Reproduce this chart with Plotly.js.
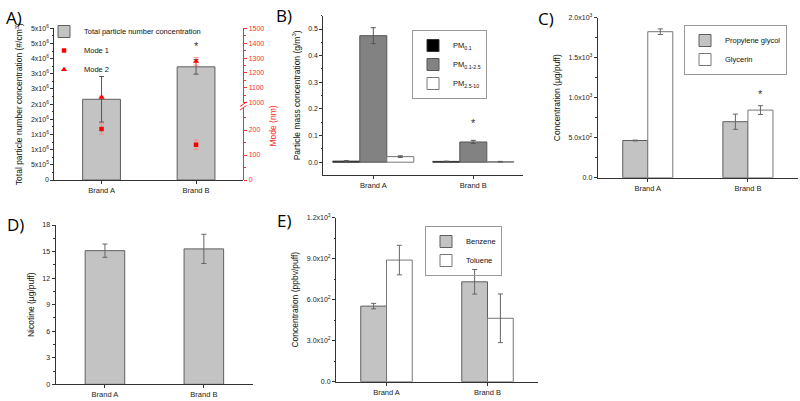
<!DOCTYPE html>
<html>
<head>
<meta charset="utf-8">
<script src="https://cdn.plot.ly/plotly-3.0.1.min.js"></script>
<style>html,body{margin:0;padding:0;background:#fff;}#chart{width:800px;height:401px;}</style>
</head>
<body>
<div id="chart"></div>
<script>
// ---------- data ----------
const brands = ['Brand A', 'Brand B'];

// Panel A
const totalNumber = [2.66e6, 3.73e6];
const totalNumberErr = [0.75e6, 0.24e6];
const mode1 = [204, 141];
const mode1Err = [21, 19];
const mode2 = [1036, 1278];
const mode2Err = [8, 25];

// Panel B
const pm01 = [0.004, 0.003];
const pm01Err = [0.002, 0.001];
const pm0125 = [0.475, 0.076];
const pm0125Err = [0.030, 0.006];
const pm2510 = [0.021, 0.002];
const pm2510Err = [0.003, 0.001];

// Panel C
const propyleneGlycol = [465, 700];
const propyleneGlycolErr = [5, 95];
const glycerin = [1825, 845];
const glycerinErr = [35, 55];

// Panel D
const nicotine = [15.1, 15.3];
const nicotineErr = [0.75, 1.65];

// Panel E
const benzene = [553, 731];
const benzeneErr = [20, 90];
const toluene = [890, 464];
const tolueneErr = [108, 178];

// tick labels
const aLeftTickVals = [0, 5e5, 1e6, 1.5e6, 2e6, 2.5e6, 3e6, 3.5e6, 4e6, 4.5e6, 5e6];
const aLeftTickText = ['0', '5x10<sup>5</sup>', '1x10<sup>6</sup>', '1x10<sup>6</sup>', '2x10<sup>6</sup>', '2x10<sup>6</sup>',
  '3x10<sup>6</sup>', '3x10<sup>6</sup>', '4x10<sup>6</sup>', '5x10<sup>6</sup>', '5x10<sup>6</sup>'];
const cTickVals = [0, 500, 1000, 1500, 2000];
const cTickText = ['0.0', '5.0x10<sup>2</sup>', '1.0x10<sup>3</sup>', '1.5x10<sup>3</sup>', '2.0x10<sup>3</sup>'];
const eTickVals = [0, 300, 600, 900, 1200];
const eTickText = ['0.0', '3.0x10<sup>2</sup>', '6.0x10<sup>2</sup>', '9.0x10<sup>2</sup>', '1.2x10<sup>3</sup>'];

// ---------- helpers ----------
const W = 800, H = 401;
const px = v => v / W;
const py = v => (H - v) / H;
const FONT = '"Liberation Sans", Arial, sans-serif';
const AX = '#333';

function err(arr, color) {
  return {type: 'data', array: arr, visible: true, color: color || '#555', thickness: 1, width: 2.5};
}
function xax(domain, anchor) {
  return {
    domain: domain, anchor: anchor, type: 'category', categoryarray: brands, categoryorder: 'array',
    range: [-0.5, 1.5], showline: true, linecolor: AX, linewidth: 1, ticks: 'outside', ticklen: 3,
    tickcolor: AX, tickfont: {size: 7.5, family: FONT, color: '#222'}, showgrid: false, zeroline: false,
    fixedrange: true
  };
}
function yax(domain, anchor, range, extra) {
  return Object.assign({
    domain: domain, anchor: anchor, range: range, showline: true, linecolor: AX, linewidth: 1,
    ticks: 'outside', ticklen: 3, tickcolor: AX, tickfont: {size: 7, family: FONT, color: '#222'},
    showgrid: false, zeroline: false, fixedrange: true
  }, extra);
}

const GRAY = '#c3c3c3';
const GRAY_LINE = '#5f5f5f';

const traces = [
  // ----- Panel A -----
  {type: 'bar', name: 'Total particle number concentration', x: brands, y: totalNumber,
   error_y: err(totalNumberErr), width: 0.4, xaxis: 'x', yaxis: 'y', legend: 'legend',
   marker: {color: GRAY, line: {color: GRAY_LINE, width: 1}}},
  {type: 'scatter', mode: 'markers', name: 'Mode 1', x: brands, y: mode1,
   error_y: err(mode1Err, '#ff8a8a'), xaxis: 'x', yaxis: 'y2', legend: 'legend',
   marker: {symbol: 'square', size: 4.5, color: '#ff0000'}},
  {type: 'scatter', mode: 'markers', name: 'Mode 2', x: brands, y: mode2,
   error_y: err(mode2Err, '#ff8a8a'), xaxis: 'x', yaxis: 'y3', legend: 'legend',
   marker: {symbol: 'triangle-up', size: 5.5, color: '#ff0000'}},

  // ----- Panel B -----
  {type: 'bar', name: 'PM<sub>0.1</sub>', x: brands, y: pm01, error_y: err(pm01Err),
   width: 0.27, offset: -0.405, xaxis: 'x2', yaxis: 'y4', legend: 'legend2',
   marker: {color: '#000000', line: {color: '#333', width: 1}}},
  {type: 'bar', name: 'PM<sub>0.1-2.5</sub>', x: brands, y: pm0125, error_y: err(pm0125Err),
   width: 0.27, offset: -0.135, xaxis: 'x2', yaxis: 'y4', legend: 'legend2',
   marker: {color: '#828282', line: {color: '#555', width: 1}}},
  {type: 'bar', name: 'PM<sub>2.5-10</sub>', x: brands, y: pm2510, error_y: err(pm2510Err),
   width: 0.27, offset: 0.135, xaxis: 'x2', yaxis: 'y4', legend: 'legend2',
   marker: {color: '#ffffff', line: {color: '#777', width: 1}}},

  // ----- Panel C -----
  {type: 'bar', name: 'Propylene glycol', x: brands, y: propyleneGlycol, error_y: err(propyleneGlycolErr, '#666'),
   width: 0.25, offset: -0.25, xaxis: 'x3', yaxis: 'y5', legend: 'legend3',
   marker: {color: GRAY, line: {color: GRAY_LINE, width: 1}}},
  {type: 'bar', name: 'Glycerin', x: brands, y: glycerin, error_y: err(glycerinErr, '#666'),
   width: 0.25, offset: 0, xaxis: 'x3', yaxis: 'y5', legend: 'legend3',
   marker: {color: '#ffffff', line: {color: '#777', width: 1}}},

  // ----- Panel D -----
  {type: 'bar', name: 'Nicotine', x: brands, y: nicotine, error_y: err(nicotineErr, '#666'),
   width: 0.4, xaxis: 'x4', yaxis: 'y6', showlegend: false,
   marker: {color: GRAY, line: {color: GRAY_LINE, width: 1}}},

  // ----- Panel E -----
  {type: 'bar', name: 'Benzene', x: brands, y: benzene, error_y: err(benzeneErr, '#666'),
   width: 0.255, offset: -0.255, xaxis: 'x5', yaxis: 'y7', legend: 'legend4',
   marker: {color: GRAY, line: {color: GRAY_LINE, width: 1}}},
  {type: 'bar', name: 'Toluene', x: brands, y: toluene, error_y: err(tolueneErr, '#666'),
   width: 0.255, offset: 0, xaxis: 'x5', yaxis: 'y7', legend: 'legend4',
   marker: {color: '#ffffff', line: {color: '#777', width: 1}}}
];

const titleFont = {size: 8.5, family: FONT, color: '#111'};
const legendBase = {font: {size: 7.5, family: FONT, color: '#111'}, xanchor: 'left', yanchor: 'top',
  bgcolor: 'rgba(255,255,255,0)', itemwidth: 30, tracegroupgap: 0};

const RED = '#ff2a2a';
const layout = {
  width: W, height: H, margin: {l: 0, r: 0, t: 0, b: 0},
  paper_bgcolor: '#ffffff', plot_bgcolor: 'rgba(0,0,0,0)',
  barmode: 'overlay', showlegend: true, font: {family: FONT},

  // Panel A
  xaxis: xax([px(54.3), px(243.3)], 'y'),
  yaxis: yax([py(180), py(28.3)], 'x', [0, 5e6], {
    tickmode: 'array', tickvals: aLeftTickVals, ticktext: aLeftTickText,
    minor: {tickmode: 'linear', tick0: 0, dtick: 2.5e5, ticks: 'outside', ticklen: 1.5, tickcolor: AX},
    title: {text: 'Total particle number concentration (#/cm<sup>3</sup>)', font: titleFont, standoff: 6}
  }),
  yaxis2: yax([py(180), py(108)], 'x', [0, 288], {
    side: 'right', linecolor: RED, tickcolor: RED, tickfont: {size: 7, family: FONT, color: RED},
    tickmode: 'array', tickvals: [0, 100, 200],
    minor: {tickmode: 'linear', tick0: 0, dtick: 50, ticks: 'outside', ticklen: 1.5, tickcolor: RED}
  }),
  yaxis3: yax([py(102.7), py(28.3)], 'x', [1000, 1500], {
    side: 'right', linecolor: RED, tickcolor: RED, tickfont: {size: 7, family: FONT, color: RED},
    tickmode: 'linear', tick0: 1000, dtick: 100,
    minor: {tickmode: 'linear', tick0: 1000, dtick: 50, ticks: 'outside', ticklen: 1.5, tickcolor: RED}
  }),

  // Panel B
  xaxis2: xax([px(323.3), px(523.3)], 'y4'),
  yaxis4: yax([py(175), py(15.7)], 'x2', [-0.048, 0.55], {
    tickmode: 'linear', tick0: 0, dtick: 0.1, tickformat: '.1f',
    minor: {tickmode: 'linear', tick0: 0, dtick: 0.05, ticks: 'outside', ticklen: 1.5, tickcolor: AX},
    title: {text: 'Particle mass concentration (g/m<sup>3</sup>)', font: titleFont, standoff: 6}
  }),

  // Panel C
  xaxis3: xax([px(597.7), px(798)], 'y5'),
  yaxis5: yax([py(177.7), py(17.7)], 'x3', [0, 2000], {
    tickmode: 'array', tickvals: cTickVals, ticktext: cTickText,
    minor: {tickmode: 'linear', tick0: 0, dtick: 250, ticks: 'outside', ticklen: 1.5, tickcolor: AX},
    title: {text: 'Concentration (µg/puff)', font: titleFont, standoff: 6}
  }),

  // Panel D
  xaxis4: xax([px(55.5), px(253.3)], 'y6'),
  yaxis6: yax([py(384.3), py(225)], 'x4', [0, 18], {
    tickmode: 'linear', tick0: 0, dtick: 3,
    minor: {tickmode: 'linear', tick0: 0, dtick: 1.5, ticks: 'outside', ticklen: 1.5, tickcolor: AX},
    title: {text: 'Nicotine (µg/puff)', font: titleFont, standoff: 6}
  }),

  // Panel E
  xaxis5: xax([px(336), px(538)], 'y7'),
  yaxis7: yax([py(381.7), py(217.7)], 'x5', [0, 1200], {
    tickmode: 'array', tickvals: eTickVals, ticktext: eTickText,
    minor: {tickmode: 'linear', tick0: 0, dtick: 150, ticks: 'outside', ticklen: 1.5, tickcolor: AX},
    title: {text: 'Concentration (ppbv/puff)', font: titleFont, standoff: 6}
  }),

  legend: Object.assign({}, legendBase, {x: px(44), y: py(17)}),
  legend2: Object.assign({}, legendBase, {x: px(412), y: py(30), bordercolor: '#999', borderwidth: 1}),
  legend3: Object.assign({}, legendBase, {x: px(684), y: py(25), bordercolor: '#999', borderwidth: 1}),
  legend4: Object.assign({}, legendBase, {x: px(425), y: py(226), bordercolor: '#999', borderwidth: 1}),

  annotations: [
    // panel labels
    {text: 'A)', xref: 'paper', yref: 'paper', x: px(4), y: py(4), xanchor: 'left', yanchor: 'top', showarrow: false, font: {size: 17, family: 'Open Sans, sans-serif', color: '#000'}},
    {text: 'B)', xref: 'paper', yref: 'paper', x: px(274), y: py(2), xanchor: 'left', yanchor: 'top', showarrow: false, font: {size: 17, family: 'Open Sans, sans-serif', color: '#000'}},
    {text: 'C)', xref: 'paper', yref: 'paper', x: px(536), y: py(5), xanchor: 'left', yanchor: 'top', showarrow: false, font: {size: 17, family: 'Open Sans, sans-serif', color: '#000'}},
    {text: 'D)', xref: 'paper', yref: 'paper', x: px(5), y: py(211), xanchor: 'left', yanchor: 'top', showarrow: false, font: {size: 17, family: 'Open Sans, sans-serif', color: '#000'}},
    {text: 'E)', xref: 'paper', yref: 'paper', x: px(275), y: py(207), xanchor: 'left', yanchor: 'top', showarrow: false, font: {size: 17, family: 'Open Sans, sans-serif', color: '#000'}},
    // right axis title of panel A
    {text: 'Mode (nm)', xref: 'paper', yref: 'paper', x: px(273), y: py(104), textangle: -90, showarrow: false, font: {size: 8.5, family: FONT, color: RED}},
    // significance stars
    {text: '*', xref: 'x', yref: 'y', x: 1, y: 4.43e6, showarrow: false, font: {size: 11, family: FONT, color: '#333'}},
    {text: '*', xref: 'x2', yref: 'y4', x: 1, y: 0.148, showarrow: false, font: {size: 11, family: FONT, color: '#333'}},
    {text: '*', xref: 'x3', yref: 'y5', x: 1.125, y: 1050, showarrow: false, font: {size: 11, family: FONT, color: '#333'}}
  ],
  shapes: [
    // axis break marks on panel A right axis
    {type: 'line', xref: 'paper', yref: 'paper', x0: px(240), y0: py(110), x1: px(246.5), y1: py(105.5), line: {color: RED, width: 1}},
    {type: 'line', xref: 'paper', yref: 'paper', x0: px(240), y0: py(106.5), x1: px(246.5), y1: py(102), line: {color: RED, width: 1}}
  ]
};

Plotly.newPlot('chart', traces, layout, {displayModeBar: false, staticPlot: true});
</script>
</body>
</html>
